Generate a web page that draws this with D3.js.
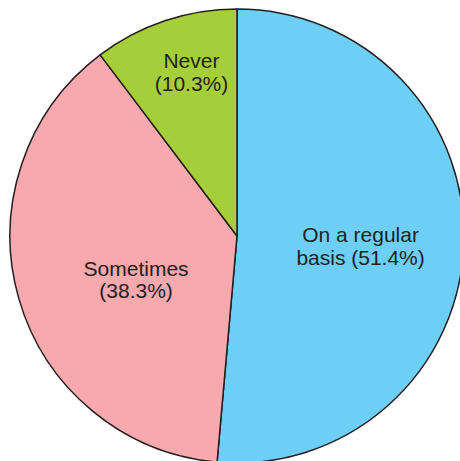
<!DOCTYPE html>
<html>
<head>
<meta charset="utf-8">
<script src="https://cdn.jsdelivr.net/npm/d3@7"></script>
<style>
  html, body { margin: 0; padding: 0; background: #fff; }
  svg { display: block; }
</style>
</head>
<body>
<svg id="chart" width="460" height="461"></svg>
<script>
// Survey answers, in clockwise order starting from 12 o'clock
const categories = ["On a regular basis", "Sometimes", "Never"];
const shares = [51.4, 38.3, 10.3];
const labelLines = [["On a regular", "basis (51.4%)"], ["Sometimes", "(38.3%)"], ["Never", "(10.3%)"]];
const colors = ["#6dcff6", "#f7a9ae", "#a6ce39"];

const svg = d3.select("#chart");
const cx = 237, cy = 236, radius = 227;

const g = svg.append("g").attr("transform", `translate(${cx},${cy})`);

const pie = d3.pie().sort(null).value(d => d.value);
const arcs = pie(categories.map((c, i) => ({ name: c, value: shares[i], i })));

const arc = d3.arc().innerRadius(0).outerRadius(radius);

g.selectAll("path.slice")
  .data(arcs)
  .join("path")
  .attr("class", "slice")
  .attr("d", arc)
  .attr("fill", d => colors[d.data.i])
  .attr("stroke", "#231f20")
  .attr("stroke-width", 1.5)
  .attr("stroke-linejoin", "round");

// Label placement: distance from centre and angular nudge from the slice midpoint
const labelRadius = [124, 110, 170];
const labelNudge = [2.2, -7.4, 3.0]; // degrees

const fontSize = 21, lineGap = 22.5, cap = 0.716 * fontSize;

arcs.forEach(d => {
  const i = d.data.i;
  const a = (d.startAngle + d.endAngle) / 2 + labelNudge[i] * Math.PI / 180;
  const x = labelRadius[i] * Math.sin(a);
  const y = -labelRadius[i] * Math.cos(a);
  const firstBase = y - (cap + lineGap) / 2 + cap;
  const t = g.append("text")
    .attr("text-anchor", "middle")
    .attr("font-family", "'Liberation Sans', Arial, Helvetica, sans-serif")
    .attr("font-size", fontSize)
    .attr("fill", "#231f20");
  labelLines[i].forEach((line, k) => {
    t.append("tspan")
      .attr("x", x)
      .attr("y", firstBase + k * lineGap)
      .text(line);
  });
});
</script>
</body>
</html>
